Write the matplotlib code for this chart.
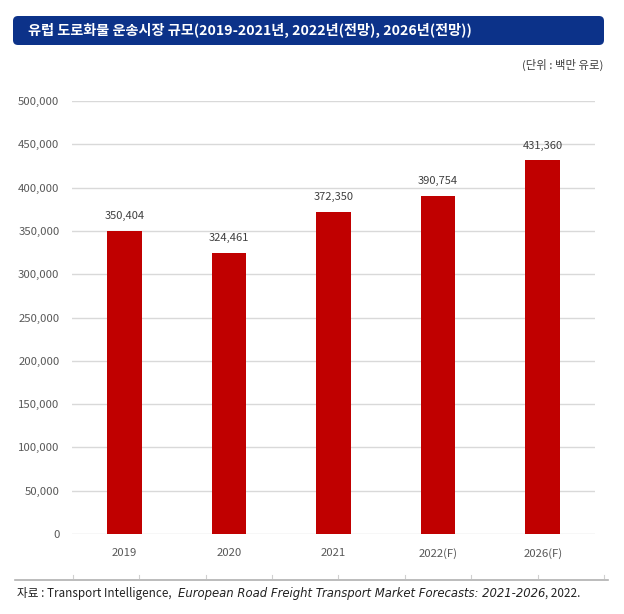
import matplotlib
matplotlib.use("Agg")
import matplotlib.pyplot as plt
from matplotlib.patches import FancyBboxPatch
from matplotlib.lines import Line2D

plt.rcParams['font.family'] = ['Noto Sans CJK KR', 'DejaVu Sans']

years = ['2019', '2020', '2021', '2022(F)', '2026(F)']
values = [350404, 324461, 372350, 390754, 431360]
yticks = [0, 50000, 100000, 150000, 200000, 250000, 300000, 350000, 400000, 450000, 500000]

title = '유럽 도로화물 운송시장 규모(2019-2021년, 2022년(전망), 2026년(전망))'
unit = '(단위 : 백만 유로)'

W, H = 624, 614
fig = plt.figure(figsize=(W / 100, H / 100), dpi=100)

# title banner
banner = FancyBboxPatch((13 / W, 1 - 45 / H), 591 / W, 29 / H,
                        boxstyle="round,pad=0,rounding_size=0.008",
                        transform=fig.transFigure, facecolor='#0c3289',
                        edgecolor='none')
fig.patches.append(banner)
fig.text(28 / W, 1 - 30.5 / H, title, color='white', fontsize=10.2,
         fontweight='bold', va='center', ha='left')
fig.text(603 / W, 1 - 65 / H, unit, color='#404040', fontsize=8.2,
         va='center', ha='right')

ax = fig.add_axes([72 / W, 1 - 534 / H, 523 / W, 433 / H])
x = range(len(years))
bars = ax.bar(x, values, width=0.33, color='#c00000', zorder=3)
for i, v in enumerate(values):
    ax.text(i, v + 11000, f'{v:,}', ha='center', va='bottom',
            fontsize=8, color='#404040')

ax.set_xlim(-0.5, len(years) - 0.5)
ax.set_ylim(0, 500000)
ax.set_yticks(yticks)
ax.set_yticklabels([f'{t:,}' for t in yticks], fontsize=8.2, color='#595959')
ax.set_xticks(list(x))
ax.set_xticklabels(years, fontsize=8.2, color='#595959')
ax.tick_params(axis='both', length=0)
ax.tick_params(axis='y', pad=9)
ax.tick_params(axis='x', pad=10)
ax.grid(axis='y', color='#d9d9d9', linewidth=1, zorder=0)
for s in ax.spines.values():
    s.set_visible(False)

# bottom rule with small decorative ticks
fig.add_artist(Line2D([15 / W, 608 / W], [1 - 580 / H, 1 - 580 / H],
                      transform=fig.transFigure, color='#b0b0b0', lw=1.2))
for tx in [73, 139, 206, 272, 338, 405, 471, 538, 604]:
    fig.add_artist(Line2D([tx / W, tx / W], [1 - 575 / H, 1 - 578 / H],
                          transform=fig.transFigure, color='#d0d0d0', lw=0.8))

# source note with italic title
fig.canvas.draw()
renderer = fig.canvas.get_renderer()
parts = [('자료 : Transport Intelligence,', 'normal', ['Noto Sans CJK KR', 'DejaVu Sans']),
         ('European Road Freight Transport Market Forecasts: 2021-2026', 'italic', ['DejaVu Sans']),
         (', 2022.', 'normal', ['Noto Sans CJK KR', 'DejaVu Sans'])]
gaps = [6, 0, 0]
xpos = 17 / W
for (txt, style, fam), gap in zip(parts, gaps):
    t = fig.text(xpos, 1 - 593 / H, txt, fontsize=8.4, color='#222222',
                 style=style, family=fam, va='center', ha='left')
    bb = t.get_window_extent(renderer)
    xpos += (bb.width + gap) / W

fig.savefig('out.png', dpi=100)
